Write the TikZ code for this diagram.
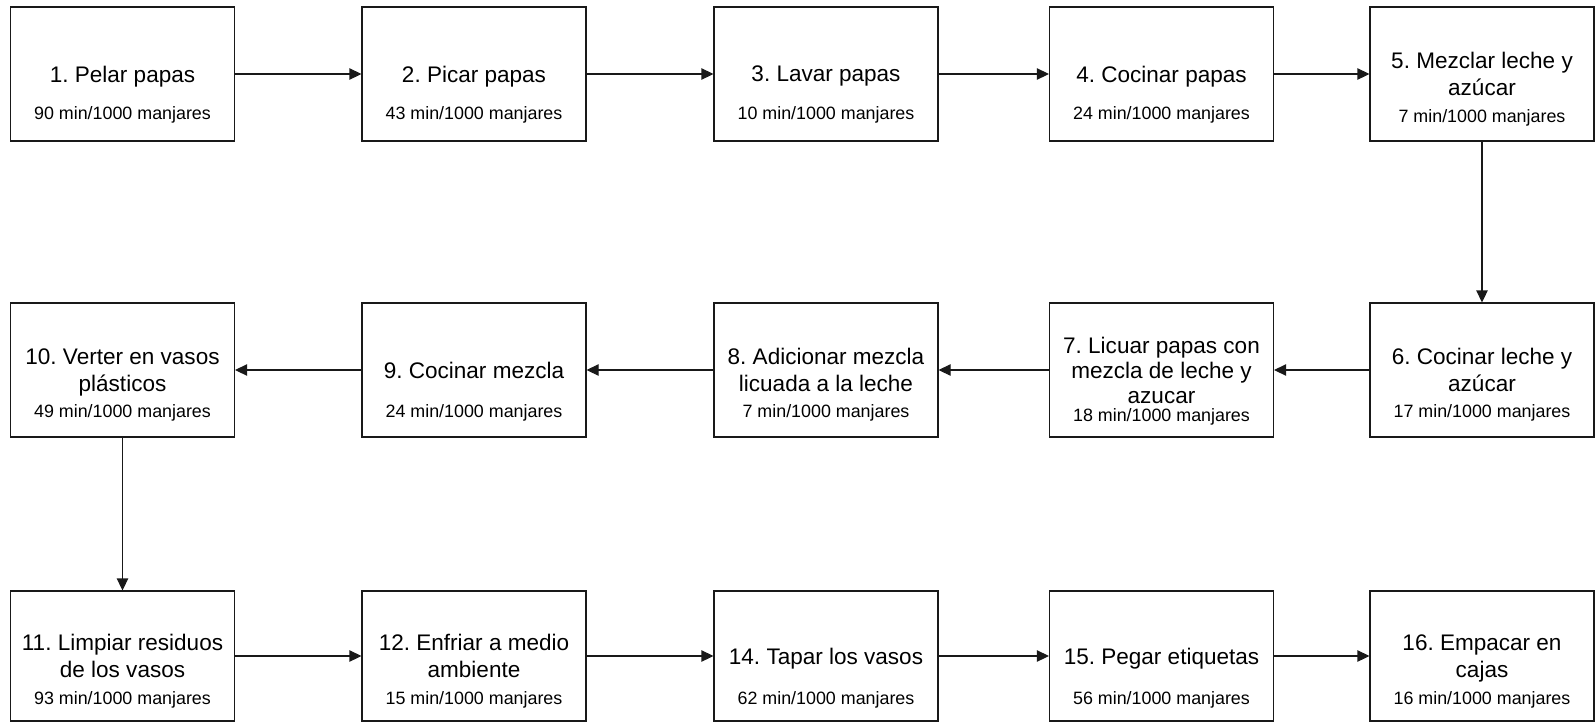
\documentclass[tikz,border=0pt]{standalone}
\usepackage{fontspec}
\setmainfont{Liberation Sans}
\usetikzlibrary{arrows.meta}
\frenchspacing
\begin{document}
\begin{tikzpicture}[x=0.75pt,y=-0.75pt,
  box/.style={draw=black!90, line width=0.8pt, minimum width=168pt, minimum height=100.5pt,
    align=center, inner sep=0pt, text depth=0pt, font=\fontsize{16.9}{20.25}\selectfont},
  boxlow/.style={box, minimum height=97.5pt},
  sub/.style={anchor=base, inner sep=0pt, font=\fontsize{13.4}{16}\selectfont},
  flow/.style={draw=black!90, line width=0.8pt, -{Triangle[length=9pt,width=8.5pt]}}]
\useasboundingbox (0,0) rectangle (1595,722);
% row 1
\node[box] (b1) at (122.5,74) {1. Pelar papas};
\node[box] (b2) at (474,74) {2. Picar papas};
\node[box] (b3) at (826,74) {3. Lavar papas};
\node[box] (b4) at (1161.5,74) {4. Cocinar papas};
\node[box] (b5) at (1482,74) {5. Mezclar leche y\\azúcar};
\node[sub] (s1) at ([yshift=-33.75pt]b1.center) {90 min/1000 manjares};
\node[sub] (s2) at ([yshift=-33.75pt]b2.center) {43 min/1000 manjares};
\node[sub] (s3) at ([yshift=-33.75pt]b3.center) {10 min/1000 manjares};
\node[sub] (s4) at ([yshift=-33.75pt]b4.center) {24 min/1000 manjares};
\node[sub] (s5) at ([yshift=-36pt]b5.center) {7 min/1000 manjares};
% row 2
\node[box] (b6) at (1482,370) {6. Cocinar leche y\\azúcar};
\node[box, font=\fontsize{16.9}{18.75}\selectfont] (b7) at (1161.5,370) {7. Licuar papas con\\mezcla de leche y\\azucar};
\node[box] (b8) at (826,370) {8. Adicionar mezcla\\licuada a la leche};
\node[box] (b9) at (474,370) {9. Cocinar mezcla};
\node[box] (b10) at (122.5,370) {10. Verter en vasos\\plásticos};
\node[sub] (s6) at ([yshift=-35.25pt]b6.center) {17 min/1000 manjares};
\node[sub] (s7) at ([yshift=-38.5pt]b7.center) {18 min/1000 manjares};
\node[sub] (s8) at ([yshift=-35.25pt]b8.center) {7 min/1000 manjares};
\node[sub] (s9) at ([yshift=-35.25pt]b9.center) {24 min/1000 manjares};
\node[sub] (s10) at ([yshift=-35.25pt]b10.center) {49 min/1000 manjares};
% row 3
\node[boxlow] (b11) at (122.5,656) {11. Limpiar residuos\\de los vasos};
\node[boxlow] (b12) at (474,656) {12. Enfriar a medio\\ambiente};
\node[boxlow] (b14) at (826,656) {14. Tapar los vasos};
\node[boxlow] (b15) at (1161.5,656) {15. Pegar etiquetas};
\node[boxlow] (b16) at (1482,656) {16. Empacar en\\cajas};
\node[sub] (s11) at ([yshift=-36.5pt]b11.center) {93 min/1000 manjares};
\node[sub] (s12) at ([yshift=-36.5pt]b12.center) {15 min/1000 manjares};
\node[sub] (s14) at ([yshift=-36.5pt]b14.center) {62 min/1000 manjares};
\node[sub] (s15) at ([yshift=-36.5pt]b15.center) {56 min/1000 manjares};
\node[sub] (s16) at ([yshift=-36.5pt]b16.center) {16 min/1000 manjares};
% connectors
\draw[flow] (b1) -- (b2);
\draw[flow] (b2) -- (b3);
\draw[flow] (b3) -- (b4);
\draw[flow] (b4) -- (b5);
\draw[flow] (b5) -- (b6);
\draw[flow] (b6) -- (b7);
\draw[flow] (b7) -- (b8);
\draw[flow] (b8) -- (b9);
\draw[flow] (b9) -- (b10);
\draw[flow] (b10) -- (b11);
\draw[flow] (b11) -- (b12);
\draw[flow] (b12) -- (b14);
\draw[flow] (b14) -- (b15);
\draw[flow] (b15) -- (b16);
\end{tikzpicture}
\end{document}
